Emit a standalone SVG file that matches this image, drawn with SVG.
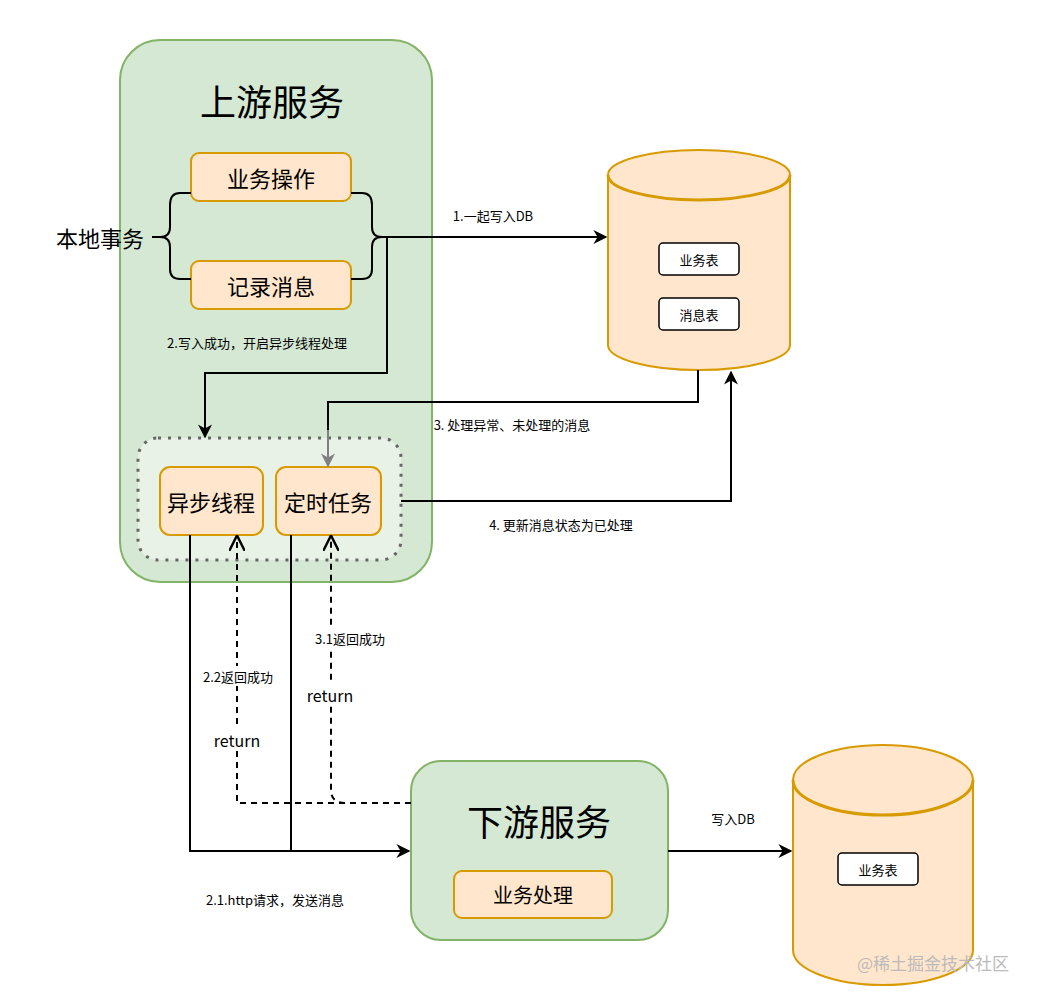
<svg xmlns="http://www.w3.org/2000/svg" width="1040" height="998" viewBox="0 0 1040 998">
<style>
text{font-family:"Noto Sans CJK SC","Liberation Sans",sans-serif;fill:#000}
.c{text-anchor:middle;dominant-baseline:central}
.ob{fill:#ffe6cc;stroke:#d79b00;stroke-width:2}
.gb{fill:#d5e8d4;stroke:#82b366;stroke-width:2}
.ln{fill:none;stroke:#000;stroke-width:2}
.ds{fill:none;stroke:#000;stroke-width:2;stroke-dasharray:6 5}
.wb{fill:#fff;stroke:#000;stroke-width:1.5}
.s{font-size:13px}
</style>
<defs>
<marker id="a" viewBox="0 0 10 10" refX="9" refY="5" markerWidth="7" markerHeight="7" orient="auto"><path d="M0,0L10,5L0,10L3,5z" fill="#000"/></marker>
<marker id="g" viewBox="0 0 10 10" refX="9" refY="5" markerWidth="7" markerHeight="7" orient="auto"><path d="M0,0L10,5L0,10L3,5z" fill="#808080"/></marker>
<marker id="o" viewBox="0 0 10 10" refX="9" refY="5" markerWidth="8" markerHeight="8" orient="auto"><path d="M0,0L10,5L0,10" fill="none" stroke="#000" stroke-width="1.5"/></marker>
</defs>
<rect width="1040" height="998" fill="#fff"/>
<g id="upstream"><rect class="gb" x="120" y="40" width="312" height="542" rx="40"/><text class="c" x="272" y="100" font-size="36">上游服务</text></g>
<g id="op"><rect class="ob" x="191" y="153" width="160" height="48" rx="8"/><text class="c" x="271" y="177" font-size="22">业务操作</text></g>
<g id="rec"><rect class="ob" x="191" y="261" width="160" height="48" rx="8"/><text class="c" x="271" y="285" font-size="22">记录消息</text></g>
<g id="local"><text class="c" x="100" y="237" font-size="22">本地事务</text>
<path class="ln" d="M191,193H180Q170,193 170,205V227Q170,237 160,237H152M160,237Q170,237 170,247V269Q170,279 180,279H191"/>
<path class="ln" d="M351,193H362Q372,193 372,205V227Q372,237 382,237M382,237Q372,237 372,247V269Q372,279 362,279H351"/></g>
<g id="pool"><rect x="138" y="438" width="263" height="122" rx="20" fill="#fff" fill-opacity="0.45" stroke="#666" stroke-width="3" stroke-dasharray="3 7"/></g>
<g id="async"><rect class="ob" x="160" y="467" width="103" height="68" rx="10"/><text class="c" x="211" y="501" font-size="22">异步线程</text></g>
<g id="timer"><rect class="ob" x="276" y="467" width="105" height="68" rx="10"/><text class="c" x="328" y="501" font-size="22">定时任务</text></g>
<g id="db1"><path class="ob" stroke-width="3" d="M608,175A91,25 0 0 1 790,175V345A91,25 0 0 1 608,345Z"/><path fill="none" stroke="#d79b00" stroke-width="3" d="M608,175A91,25 0 0 0 790,175"/>
<rect class="wb" x="659" y="243" width="80" height="32" rx="4"/><text class="c s" x="699" y="259">业务表</text>
<rect class="wb" x="659" y="298" width="80" height="32" rx="4"/><text class="c s" x="699" y="314">消息表</text></g>
<g id="downstream"><rect class="gb" x="411" y="761" width="257" height="179" rx="30"/><text class="c" x="539" y="820" font-size="36">下游服务</text>
<rect class="ob" x="454" y="871" width="158" height="47" rx="8"/><text class="c" x="533" y="894" font-size="20">业务处理</text></g>
<g id="db2"><path class="ob" stroke-width="3" d="M793,780A90,35 0 0 1 973,780V950A90,35 0 0 1 793,950Z"/><path fill="none" stroke="#d79b00" stroke-width="3" d="M793,780A90,35 0 0 0 973,780"/>
<rect class="wb" x="838" y="853" width="80" height="32" rx="4"/><text class="c s" x="878" y="869">业务表</text></g>
<g id="connectors">
<path class="ln" d="M382,237H606" marker-end="url(#a)"/><text class="c s" x="493" y="215">1.一起写入DB</text>
<path class="ln" d="M387,237V373H205V437" marker-end="url(#a)"/><text class="c s" x="257" y="342">2.写入成功，开启异步线程处理</text>
<path fill="none" stroke="#000" stroke-width="2" d="M698,370V402H328V430"/><path fill="none" stroke="#808080" stroke-width="2" d="M328,430V466" marker-end="url(#g)"/>
<text class="c s" x="512" y="424">3. 处理异常、未处理的消息</text>
<path class="ln" d="M401,501H731V372" marker-end="url(#a)"/><text class="c s" x="561" y="524">4. 更新消息状态为已处理</text>
<path class="ln" d="M190,535V851H409" marker-end="url(#a)"/><path class="ln" d="M291,535V851"/>
<text class="c s" x="275" y="899">2.1.http请求，发送消息</text>
<path class="ds" d="M411,803H237V537" marker-end="url(#o)"/>
<path class="ds" d="M345,803Q331,803 331,790V537" marker-end="url(#o)"/>
<rect x="196" y="666" width="86" height="20" fill="#fff"/><text class="c s" x="238" y="676">2.2返回成功</text>
<rect x="210" y="729" width="55" height="22" fill="#fff"/><text class="c" x="237" y="740" font-size="16">return</text>
<rect x="308" y="628" width="86" height="20" fill="#fff"/><text class="c s" x="350" y="638">3.1返回成功</text>
<rect x="304" y="684" width="55" height="22" fill="#fff"/><text class="c" x="330" y="695" font-size="16">return</text>
<path class="ln" d="M668,851H791" marker-end="url(#a)"/><text class="c s" x="733" y="818">写入DB</text>
</g>
<text class="c" x="933" y="962" font-size="17" style="fill:#bbb">@稀土掘金技术社区</text>
</svg>
